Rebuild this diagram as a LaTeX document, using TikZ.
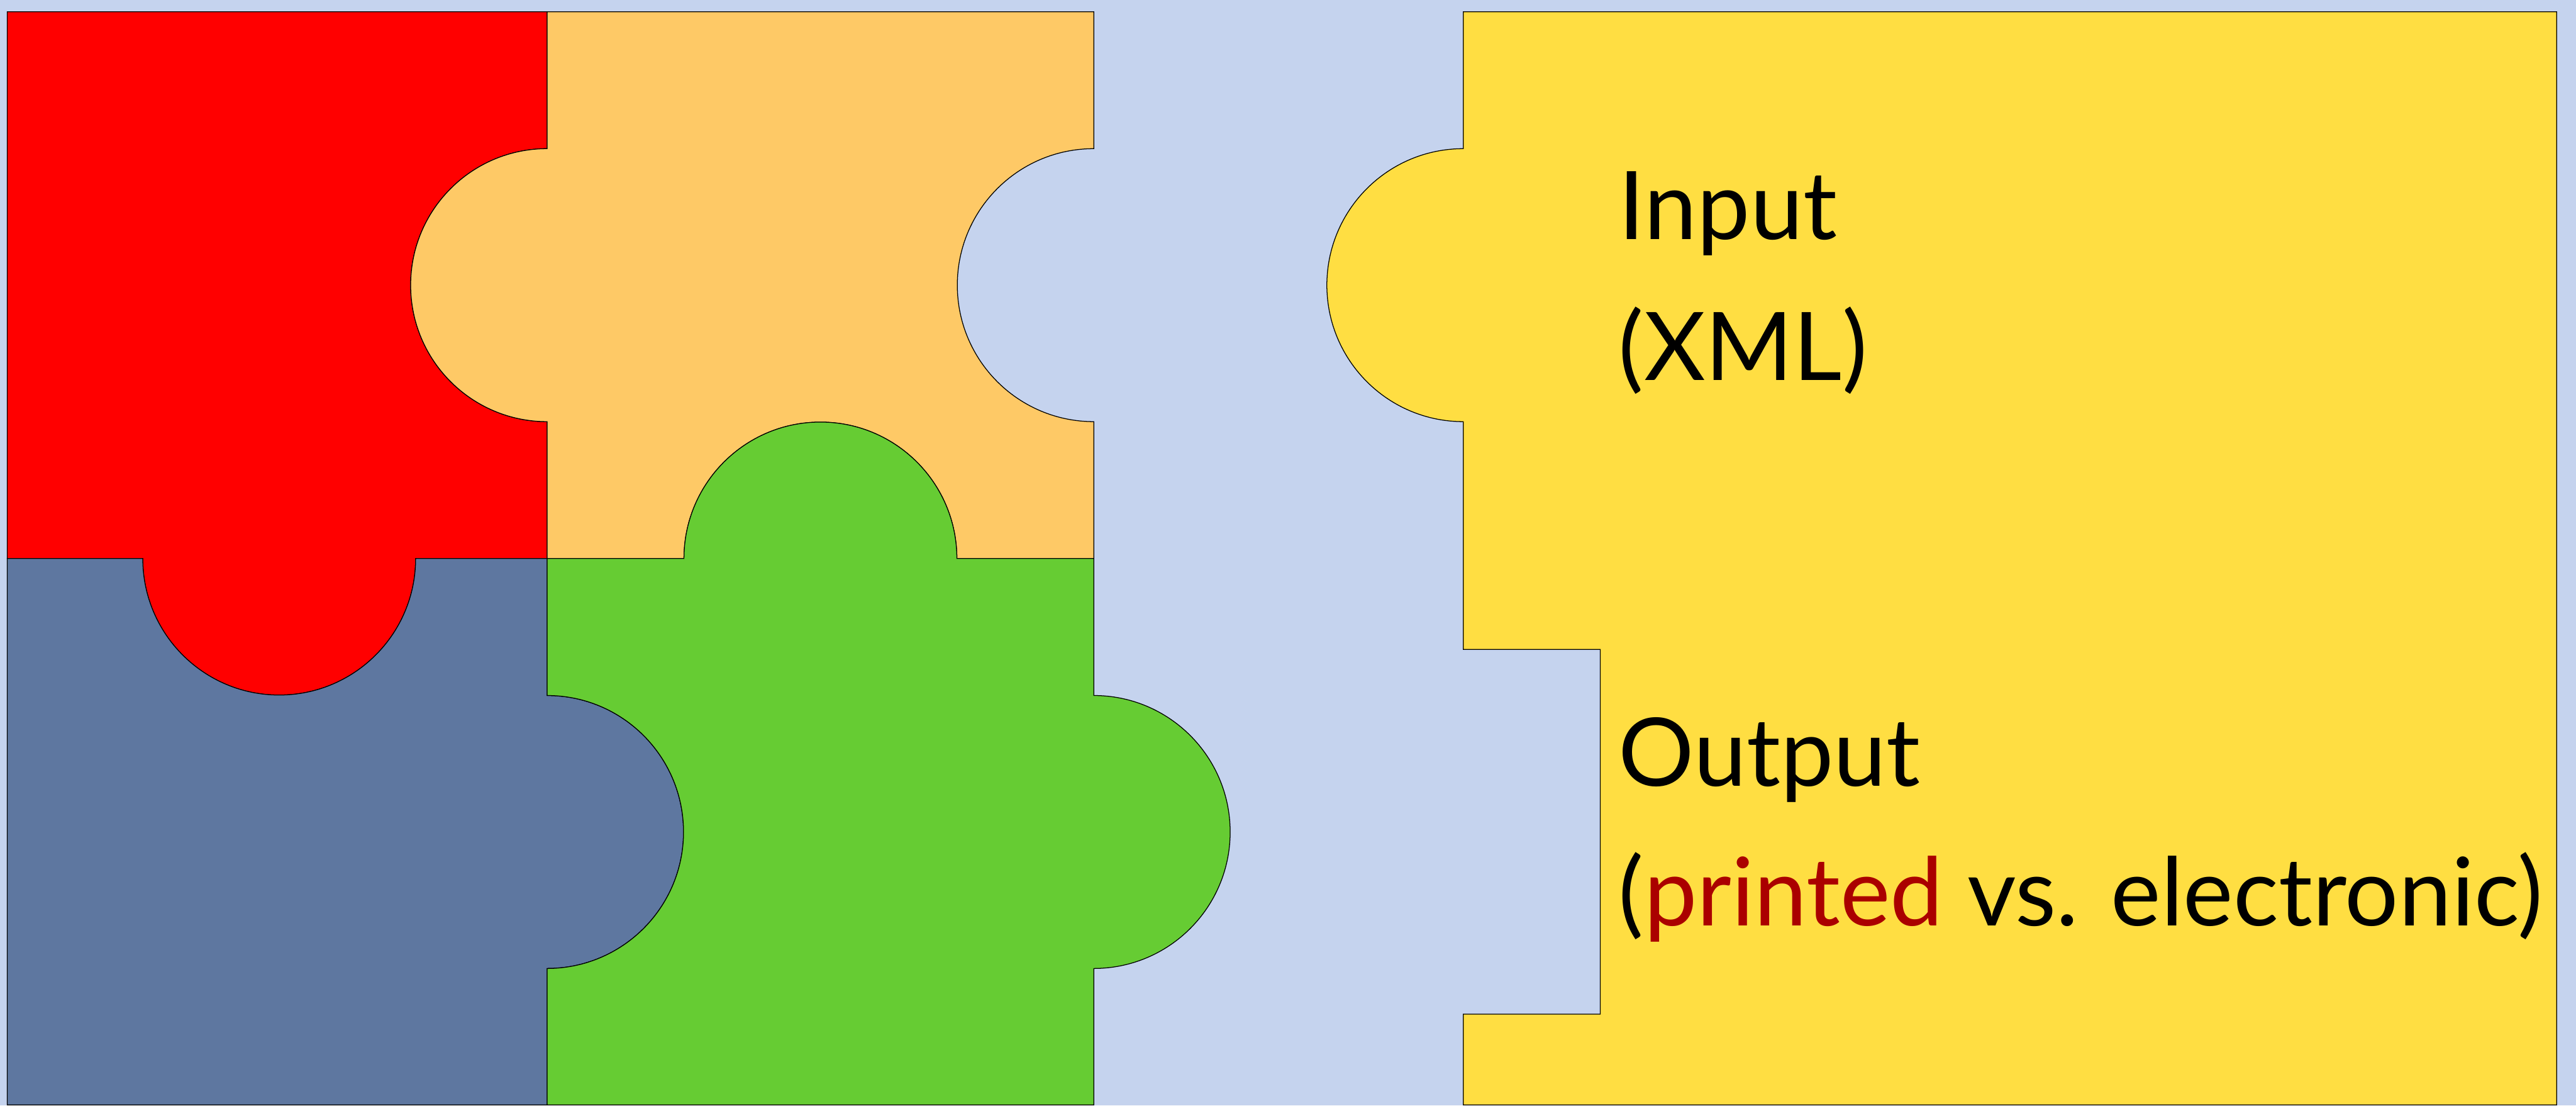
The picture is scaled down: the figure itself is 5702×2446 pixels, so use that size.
\documentclass[tikz,border=0pt]{standalone}
\usepackage{fontspec}
\setmainfont{Lato}
\definecolor{bgblue}{HTML}{C5D3EE}
\definecolor{pzred}{HTML}{FF0000}
\definecolor{pzorange}{HTML}{FEC966}
\definecolor{pzblue}{HTML}{5E77A0}
\definecolor{pzgreen}{HTML}{66CC33}
\definecolor{pzyellow}{HTML}{FFDE42}
\definecolor{txtred}{HTML}{AA0000}
\tikzset{
  piece/.style={draw=black, line width=0.5pt, line join=miter},
  label text/.style={anchor=base west, inner sep=0pt, outer sep=0pt,
    font=\fontsize{59.6}{70}\selectfont, text=black}
}
\begin{document}
\begin{tikzpicture}[x=0.01cm, y=0.01cm]
  % canvas
  \fill[bgblue] (0,0) rectangle (5702,2446);
  \useasboundingbox (0,0) rectangle (5702,2446);

  % top-left piece
  \path[piece, fill=pzred]
    (16,2420) -- (1211,2420) -- (1211,2117)
    arc[start angle=90, end angle=270, radius=302] -- (1211,1210)
    -- (920,1210) arc[start angle=0, end angle=-180, radius=302]
    -- (16,1210) -- cycle;

  % top-right piece
  \path[piece, fill=pzorange]
    (1211,2420) -- (2421,2420) -- (2421,2117)
    arc[start angle=90, end angle=270, radius=302] -- (2421,1210)
    -- (2118,1210) arc[start angle=0, end angle=180, radius=302]
    -- (1211,1210) -- (1211,1513)
    arc[start angle=270, end angle=90, radius=302] -- cycle;

  % bottom-left piece
  \path[piece, fill=pzblue]
    (16,1210) -- (316,1210)
    arc[start angle=180, end angle=360, radius=302] -- (1211,1210)
    -- (1211,907) arc[start angle=90, end angle=-90, radius=302]
    -- (1211,1) -- (16,1) -- cycle;

  % bottom-right piece
  \path[piece, fill=pzgreen]
    (1211,1210) -- (1514,1210)
    arc[start angle=180, end angle=0, radius=302] -- (2421,1210)
    -- (2421,907) arc[start angle=90, end angle=-90, radius=302]
    -- (2421,1) -- (1211,1) -- (1211,303)
    arc[start angle=-90, end angle=90, radius=302] -- cycle;

  % large piece with the labels
  \path[piece, fill=pzyellow]
    (3239,2420) -- (5659,2420) -- (5659,1) -- (3239,1) -- (3239,202)
    -- (3542,202) -- (3542,1009) -- (3239,1009) -- (3239,1513)
    arc[start angle=270, end angle=90, radius=302] -- cycle;

  \node[label text] (input) at (3583,1916) {Input};
  \node[label text] (inputfmt) at (3583,1605) {(XML)};
  \node[label text] (output) at (3583,706) {Output};
  \node[label text] (outputfmt) at (3583,398)
    {(\textcolor{txtred}{printed} vs. electronic)};
\end{tikzpicture}
\end{document}
